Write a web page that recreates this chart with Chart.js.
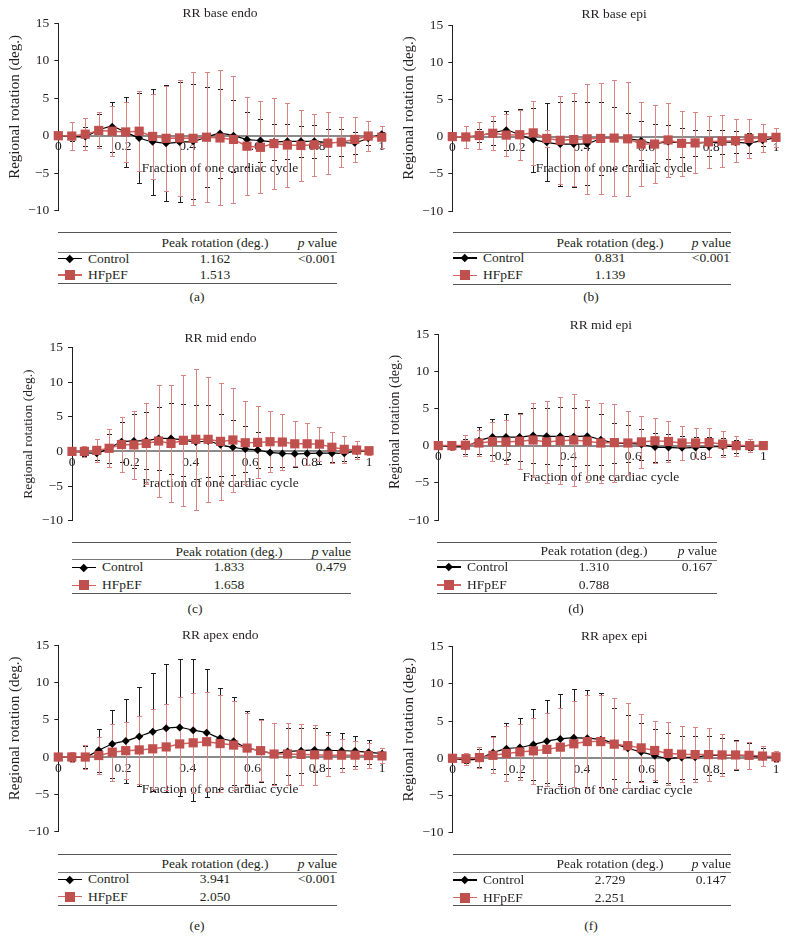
<!DOCTYPE html>
<html>
<head>
<meta charset="utf-8">
<script src="https://cdn.jsdelivr.net/npm/chart.js@4.4.1/dist/chart.umd.min.js"></script>
<style>
  body{margin:0;background:#fff;}
  #page{position:relative;width:788px;height:937px;overflow:hidden;font-family:'Liberation Serif','DejaVu Serif',serif;color:#231f20;}
  canvas{position:absolute;}
  .t{position:absolute;white-space:nowrap;line-height:1;font-size:13.5px;}
  .hl{position:absolute;height:0;}
  .sw{position:absolute;}
</style>
</head>
<body>
<div id="page"></div>
<script>
// ==================================================
// Data
// ==================================================
// fraction of one cardiac cycle (25 frames)
const XS=[0,0.0417,0.0833,0.125,0.1667,0.2083,0.25,0.2917,0.3333,0.375,0.4167,0.4583,0.5,0.5417,0.5833,0.625,0.6667,0.7083,0.75,0.7917,0.8333,0.875,0.9167,0.9583,1];
const TITLES=['RR base endo','RR base epi','RR mid endo','RR mid epi','RR apex endo','RR apex epi'];
const CAPTIONS=['(a)','(b)','(c)','(d)','(e)','(f)'];
const PEAK_CONTROL=['1.162','0.831','1.833','1.310','3.941','2.729'];
const PEAK_HFPEF=['1.513','1.139','1.658','0.788','2.050','2.251'];
const P_VALUES=['<0.001','<0.001','0.479','0.167','<0.001','0.147'];

// (a) base endo
const CTRL_A=[0,-0.1,-0.1,0.75,1.2,0.45,-0.3,-0.8,-1.0,-0.85,-0.75,-0.2,0.3,0,-0.5,-0.65,-0.85,-0.75,-0.75,-0.75,-0.9,-0.9,-0.95,-0.35,0.2];
const CTRL_A_SD=[0,0.6,1.25,2.1,3.35,4.65,6.0,7.05,7.7,8.05,7.7,6.7,5.9,4.8,3.7,2.9,2.4,2.35,2.1,2.2,1.8,1.8,1.45,0.9,0.3];
const HF_A=[0,-0.05,0.2,0.7,0.6,0.5,0.6,-0.1,-0.35,-0.3,-0.35,-0.2,-0.3,-0.5,-1.4,-1.55,-1.05,-1.25,-1.3,-1.2,-1.0,-0.85,-0.5,-0.05,-0.2];
const HF_A_SD=[0,1.9,2.15,2.4,3.3,3.95,5.3,5.7,7.0,7.7,8.85,8.7,9.0,8.5,6.55,6.15,6.1,5.6,4.75,4.15,4.1,3.3,3.0,2.05,1.5];
// (b) base epi
const CTRL_B=[0,0,0.15,0.5,0.85,0.25,-0.4,-0.75,-1.0,-1.0,-0.95,-0.3,-0.2,-0.3,-0.55,-0.95,-0.7,-0.85,-0.85,-0.8,-0.75,-0.75,-0.85,-0.5,-0.1];
const CTRL_B_SD=[0,0.4,0.9,1.65,2.6,3.4,4.3,5.25,5.7,5.8,5.55,4.9,4.2,3.45,2.6,2.6,2.25,1.95,1.8,1.75,1.6,1.45,1.4,0.8,0.3];
const HF_B=[0,-0.05,0.15,0.45,0.2,0.25,0.5,-0.25,-0.5,-0.4,-0.3,-0.25,-0.2,-0.3,-1.0,-1.0,-0.45,-0.9,-0.85,-0.7,-0.6,-0.55,-0.25,-0.15,-0.1];
const HF_B_SD=[0,1.45,1.8,2.3,2.8,3.35,4.3,1.1,5.9,6.3,7.35,7.5,7.85,7.7,5.6,5.3,5.0,4.4,4.1,3.5,3.45,2.85,2.6,1.9,1.3];
// (c) mid endo
const CTRL_C=[0,-0.15,-0.25,0.45,1.4,1.5,1.55,1.85,1.85,1.65,1.35,1.5,0.95,0.6,0.35,0.2,-0.15,-0.3,-0.35,-0.3,-0.25,-0.25,-0.25,0.05,0.1];
const CTRL_C_SD=[0,0.5,1.0,2.05,2.9,3.85,4.1,4.6,5.1,5.25,5.3,5.2,4.45,4.0,3.3,2.55,2.1,1.9,1.85,1.6,1.5,1.3,1.15,0.8,0.4];
const HF_C=[0,0,0.15,0.45,1.0,0.95,1.15,1.5,1.15,1.6,1.75,1.75,1.45,1.65,1.25,1.3,1.4,1.35,1.1,1.1,1.05,0.6,0.3,0.2,0.1];
const HF_C_SD=[0,0.8,1.7,2.75,3.9,4.95,5.8,8.05,8.5,9.5,10.2,9.05,8.4,7.55,6.0,5.2,4.4,4.0,3.25,3.0,2.5,2.2,1.95,1.35,0.6];
// (d) mid epi
const CTRL_D=[0,-0.15,-0.1,0.65,1.15,1.15,1.15,1.35,1.25,1.25,1.2,1.25,0.8,0.35,0.3,0.15,-0.2,-0.25,-0.3,-0.25,-0.2,-0.1,-0.1,-0.05,0.05];
const CTRL_D_SD=[0,0.4,1.0,1.8,2.45,3.1,3.2,3.7,3.75,3.9,3.9,3.9,3.45,2.75,2.45,2.05,1.95,1.75,1.65,1.4,1.3,1.15,0.9,0.6,0.3];
const HF_D=[0,0,0.05,0.35,0.55,0.5,0.6,0.75,0.5,0.65,0.75,0.6,0.35,0.4,0.35,0.5,0.65,0.55,0.35,0.35,0.4,0.2,0,0,0];
const HF_D_SD=[0,0.6,1.4,1.75,2.6,3.0,3.7,5.0,5.55,5.85,6.15,5.5,5.4,5.25,4.3,3.45,3.05,2.7,2.25,1.95,1.9,1.7,1.35,0.9,0.4];
// (e) apex endo
const CTRL_E=[0,0,0,0.9,1.75,2.15,2.75,3.4,3.85,3.95,3.6,3.25,2.5,2.1,1.2,0.85,0.45,0.75,0.85,0.95,0.9,0.85,0.8,0.65,0.45];
const CTRL_E_SD=[0,0.5,1.5,2.85,4.5,5.65,6.65,7.9,8.6,9.2,9.5,8.6,6.8,5.9,5.0,4.2,4.05,3.2,3.05,2.9,2.4,2.3,2.0,1.6,0.75];
const HF_E=[0,0,0,0.2,0.65,0.85,0.95,1.1,1.35,1.75,1.9,2.05,1.8,1.6,1.2,0.85,0.4,0.4,0.35,0.3,0.25,0.25,0.25,0.2,0.15];
const HF_E_SD=[0,0.7,1.6,2.45,3.8,3.8,4.6,5.35,5.7,6.3,6.7,6.6,6.5,5.95,4.75,4.1,4.15,4.15,4.1,4.0,2.75,2.2,1.9,1.65,1.0];
// (f) apex epi
const CTRL_F=[0,-0.2,0,0.75,1.3,1.45,1.85,2.3,2.6,2.75,2.7,2.5,2.0,1.35,0.85,0.35,0,0.1,0.15,0.4,0.35,0.4,0.3,0.2,0.2];
const CTRL_F_SD=[0,0.4,1.2,2.25,3.4,3.9,4.8,5.6,6.1,6.55,6.5,6.3,4.8,4.5,3.9,3.6,3.35,2.9,2.9,2.6,2.35,2.0,1.7,1.25,0.5];
const HF_F=[0,-0.05,0.1,0.4,0.65,0.85,1.0,1.2,1.5,1.95,2.25,2.25,1.9,1.7,1.4,1.05,0.65,0.55,0.5,0.5,0.45,0.45,0.4,0.3,0.2];
const HF_F_SD=[0,0.8,1.45,2.4,3.75,3.7,4.4,4.95,5.25,5.8,6.2,6.3,6.2,5.7,4.55,3.95,4.2,3.8,3.7,3.6,2.8,1.9,1.85,1.35,0.75];

const CONTROL=[CTRL_A,CTRL_B,CTRL_C,CTRL_D,CTRL_E,CTRL_F];
const CONTROL_SD=[CTRL_A_SD,CTRL_B_SD,CTRL_C_SD,CTRL_D_SD,CTRL_E_SD,CTRL_F_SD];
const HFPEF=[HF_A,HF_B,HF_C,HF_D,HF_E,HF_F];
const HFPEF_SD=[HF_A_SD,HF_B_SD,HF_C_SD,HF_D_SD,HF_E_SD,HF_F_SD];

// ==================================================
// Layout (page pixels)
// ==================================================
// box: canvas [left,top,w,h]; area: plot [left,top(15),right,bottom(-10)]
const LAYOUT=[
  {box:[0,0,394,226],area:[58.3,23.2,381.7,210.7],titleY:13.3,yDx:43,yDy:-10,ySize:15,
   tbl:{l:58,r:337,top:232.7,head:243,mid:252,r1:258.5,r2:275,bot:284},cap:[197,297]},
  {box:[394,0,394,226],area:[452.3,25,776,211],titleY:14,yDx:43,yDy:-10,ySize:15,
   tbl:{l:453,r:731,top:232.7,head:243,mid:252.3,r1:258,r2:275.3,bot:284.3},cap:[591,297]},
  {box:[0,310,394,227],area:[72,347.5,369,520.7],titleY:338,yDx:44,yDy:0,ySize:13.5,
   tbl:{l:72,r:351,top:542.3,head:552.3,mid:559.3,r1:567.3,r2:585.3,bot:593.3},cap:[195,609]},
  {box:[380,310,408,227],area:[438.3,334,763.3,520],titleY:325,yDx:43,yDy:-5,ySize:14,
   tbl:{l:437,r:717,top:542.3,head:551,mid:560,r1:567,r2:585,bot:593.3},cap:[576,609]},
  {box:[0,620,394,226],area:[58.3,645,382,831.7],titleY:635,yDx:43,yDy:-10,ySize:15,
   tbl:{l:58,r:337,top:854.3,head:864,mid:872.3,r1:879.3,r2:896.7,bot:905.7},cap:[197,926]},
  {box:[394,620,394,226],area:[452.5,646.7,776,832.7],titleY:636.7,yDx:43,yDy:-10,ySize:15,
   tbl:{l:453,r:731,top:855,head:864,mid:872.5,r1:880,r2:897.7,bot:905.7},cap:[591,926]}
];

const SERIF="'Liberation Serif','DejaVu Serif',serif";
const INK='#231f20';
const RED='#c0504d',RED_LINE='#d0625f',RED_ERR='#d98583';
const page=document.getElementById('page');

// ==================================================
// Plugins
// ==================================================
const errorBars={
  id:'errorBars',
  beforeDatasetsDraw(chart){
    const {ctx,scales:{x,y}}=chart;
    chart.data.datasets.forEach(ds=>{
      ctx.save();ctx.strokeStyle=ds.errorColor;ctx.lineWidth=1;
      ds.data.forEach((p,j)=>{
        const sd=ds.sd[j];if(!sd)return;
        const px=Math.round(x.getPixelForValue(p.x))+0.5;
        const t=Math.round(y.getPixelForValue(p.y+sd))+0.5,b=Math.round(y.getPixelForValue(p.y-sd))+0.5;
        ctx.beginPath();
        ctx.moveTo(px,t);ctx.lineTo(px,b);
        ctx.moveTo(px-2.5,t);ctx.lineTo(px+2.5,t);
        ctx.moveTo(px-2.5,b);ctx.lineTo(px+2.5,b);
        ctx.stroke();
      });
      ctx.restore();
    });
  }
};
const yTitle={
  id:'yTitle',
  afterDraw(chart,args,o){
    const {ctx,chartArea:a}=chart;
    ctx.save();
    ctx.translate(a.left-o.dx,(a.top+a.bottom)/2+o.dy);ctx.rotate(-Math.PI/2);
    ctx.font=o.size+'px '+SERIF;ctx.fillStyle=INK;ctx.textAlign='center';ctx.textBaseline='middle';
    ctx.fillText(o.text,0,0);
    ctx.restore();
  }
};

// ==================================================
// Charts
// ==================================================
function makeChart(p,i){
  const [cx,cy,cw,ch]=p.box,[aL,aT,aR,aB]=p.area;
  const cv=document.createElement('canvas');
  cv.width=cw;cv.height=ch;cv.style.left=cx+'px';cv.style.top=cy+'px';
  page.appendChild(cv);
  const tlh=13.5*1.2,tTop=p.titleY-cy-tlh/2;
  const tickFont={family:SERIF,size:13.5};
  new Chart(cv,{
    type:'line',
    data:{datasets:[
      {label:'Control',data:XS.map((x,j)=>({x,y:CONTROL[i][j]})),sd:CONTROL_SD[i],errorColor:'#1e1e1e',
       borderColor:'#000',borderWidth:1.2,tension:0.3,pointStyle:'rectRot',pointRadius:4,pointBorderWidth:0,
       pointBackgroundColor:'#000',order:2,clip:false},
      {label:'HFpEF',data:XS.map((x,j)=>({x,y:HFPEF[i][j]})),sd:HFPEF_SD[i],errorColor:RED_ERR,
       borderColor:RED_LINE,borderWidth:1.5,tension:0,pointStyle:'rect',pointRadius:6.5,pointBorderWidth:0,
       pointBackgroundColor:RED,order:1,clip:false}
    ]},
    options:{
      responsive:false,animation:false,devicePixelRatio:1,
      layout:{padding:{left:0,top:0,right:cx+cw-aR,bottom:cy+ch-aB}},
      plugins:{
        legend:{display:false},tooltip:{enabled:false},
        title:{display:true,text:TITLES[i],fullSize:false,color:INK,font:{family:SERIF,size:13.5,weight:'normal'},
               padding:{top:tTop,bottom:aT-cy-tTop-tlh}},
        yTitle:{text:'Regional rotation (deg.)',dx:p.yDx,dy:p.yDy,size:p.ySize}
      },
      scales:{
        x:{type:'linear',min:0,max:1,position:{y:0},
           ticks:{stepSize:0.2,padding:3,maxRotation:0,autoSkip:false,font:tickFont,color:INK,callback:v=>String(+v.toFixed(1))},
           grid:{display:false,drawTicks:false},
           border:{display:true,color:'#8a8a8a',width:2},
           title:{display:true,text:'Fraction of one cardiac cycle',color:INK,font:{family:SERIF,size:13.5},padding:{top:2,bottom:0}}},
        y:{min:-10,max:15,afterFit:s=>{s.width=aL-cx;},
           ticks:{stepSize:5,padding:5,font:tickFont,color:INK,callback:v=>v<0?'\u2212'+Math.abs(v):String(v)},
           grid:{display:true,drawOnChartArea:false,drawTicks:true,tickLength:4,color:INK},
           border:{display:true,color:INK,width:1}}
      }
    },
    plugins:[errorBars,yTitle]
  });
}

// ==================================================
// Tables
// ==================================================
function put(html,x,y,align,size){
  const d=document.createElement('div');d.className='t';d.innerHTML=html;
  if(size)d.style.fontSize=size+'px';
  d.style.left=x+'px';d.style.top=y+'px';
  d.style.transform='translate('+(align==='center'?'-50%':align==='right'?'-100%':'0')+',-50%)';
  page.appendChild(d);
}
function hline(x1,x2,y,w,c){
  const d=document.createElement('div');d.className='hl';
  d.style.left=x1+'px';d.style.width=(x2-x1)+'px';d.style.top=(y-w/2)+'px';d.style.borderTop=w+'px solid '+c;
  page.appendChild(d);
}
function swatch(x,y,lineColor,fill,size,rot){
  const l=document.createElement('div');l.className='sw';
  l.style.cssText+='left:'+x+'px;top:'+(y-0.75)+'px;width:24px;height:1.5px;background:'+lineColor;
  page.appendChild(l);
  const m=document.createElement('div');m.className='sw';
  m.style.cssText+='left:'+(x+12-size/2)+'px;top:'+(y-size/2)+'px;width:'+size+'px;height:'+size+'px;background:'+fill+(rot?';transform:rotate(45deg)':'');
  page.appendChild(m);
}
function makeTable(p,i){
  const t=p.tbl,pc=t.l+157,vc=t.r-20;
  hline(t.l,t.r,t.top,1.3,'#555');
  hline(t.l,t.r,t.mid,1,'#777');
  hline(t.l,t.r,t.bot,1.3,'#555');
  put('Peak rotation (deg.)',pc,t.head,'center');
  put('<i>p</i> value',t.r,t.head,'right');
  swatch(t.l,t.r1,'#000','#000',5.5,true);
  swatch(t.l,t.r2,RED_LINE,RED,10,false);
  put('Control',t.l+30,t.r1,'left');
  put('HFpEF',t.l+30,t.r2,'left');
  put(PEAK_CONTROL[i],pc,t.r1,'center');
  put(PEAK_HFPEF[i],pc,t.r2,'center');
  put(P_VALUES[i].replace('<','&lt;'),vc,t.r1,'center');
  put(CAPTIONS[i],p.cap[0],p.cap[1],'center');
}

LAYOUT.forEach((p,i)=>{makeChart(p,i);makeTable(p,i);});
</script>
</body>
</html>
